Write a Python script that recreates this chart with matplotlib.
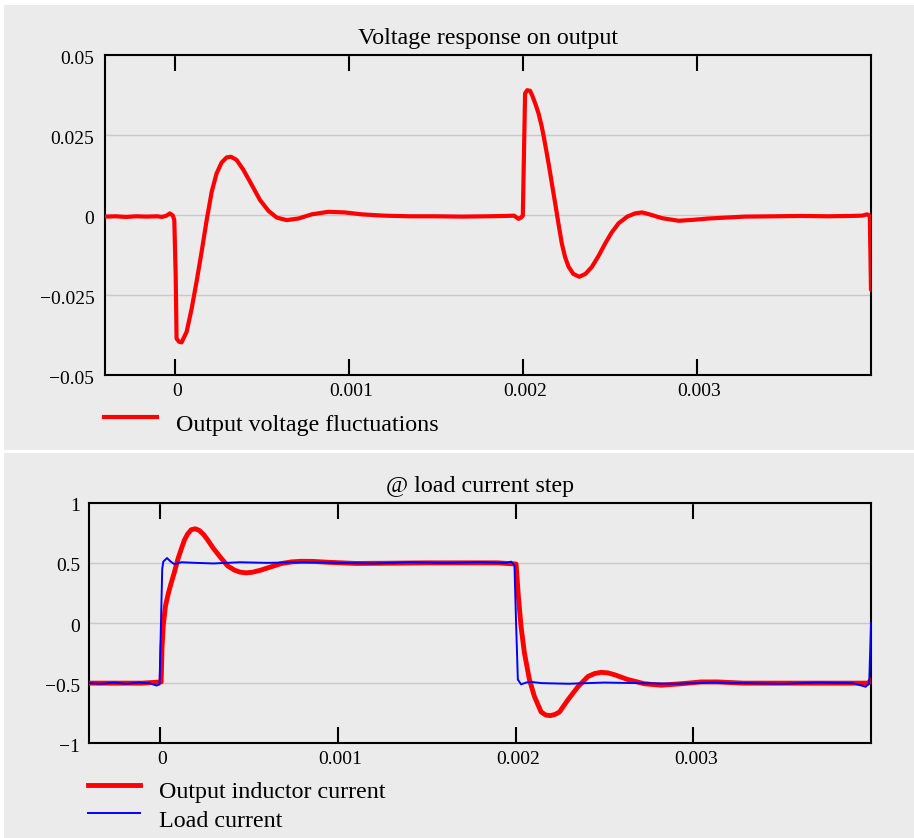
import numpy as np
import matplotlib
matplotlib.use("Agg")
import matplotlib.pyplot as plt
from matplotlib.patches import Rectangle
from matplotlib.lines import Line2D
from matplotlib.transforms import ScaledTranslation

plt.rcParams['font.family'] = ['Liberation Serif', 'DejaVu Serif']
plt.rcParams['axes.unicode_minus'] = True

# ---------------- data (time in ms) ----------------
volt_t_ms = [-0.40, -0.34, -0.28, -0.22, -0.16, -0.10, -0.075, -0.05, -0.027, -0.010,
             -0.002, 0.006, 0.011, 0.025, 0.040, 0.069, 0.098, 0.126, 0.155, 0.184,
             0.213, 0.241, 0.270, 0.299, 0.324, 0.356, 0.395, 0.443, 0.490, 0.539,
             0.586, 0.644, 0.711, 0.787, 0.883, 0.979, 1.075, 1.20, 1.35, 1.50,
             1.65, 1.80, 1.90, 1.95, 1.975, 1.990, 2.000, 2.013, 2.025, 2.042,
             2.055, 2.071, 2.090, 2.109, 2.128, 2.148, 2.167, 2.186, 2.205, 2.224,
             2.243, 2.263, 2.290, 2.324, 2.360, 2.397, 2.435, 2.473, 2.510, 2.550,
             2.600, 2.645, 2.684, 2.722, 2.800, 2.895, 2.980, 3.067, 3.170, 3.276,
             3.45, 3.60, 3.75, 3.88, 3.95, 3.977, 3.993, 4.000]
volt_v = [-0.0005, -0.0004, -0.0006, -0.0004, -0.0005, -0.0004, -0.0006, -0.0003, 0.0005, -0.0002,
          -0.0016, -0.0187, -0.0386, -0.0396, -0.0398, -0.0365, -0.0292, -0.0208, -0.0115, -0.0016,
          0.0073, 0.0130, 0.0164, 0.0180, 0.0182, 0.0172, 0.0141, 0.0094, 0.0047, 0.0013,
          -0.0008, -0.0016, -0.0011, 0.0002, 0.0010, 0.0008, 0.0002, -0.0002, -0.0004, -0.0004,
          -0.0005, -0.0004, -0.0003, -0.0002, -0.0012, -0.0008, -0.0002, 0.0380, 0.0390, 0.0388,
          0.0372, 0.0349, 0.0318, 0.0276, 0.0222, 0.0161, 0.0098, 0.0036, -0.0028, -0.0089,
          -0.0132, -0.0162, -0.0184, -0.0193, -0.0184, -0.0162, -0.0128, -0.0089, -0.0055, -0.0026,
          -0.0005, 0.0005, 0.0008, 0.0003, -0.0010, -0.0018, -0.0015, -0.0011, -0.0008, -0.0005,
          -0.0004, -0.0003, -0.0004, -0.0003, -0.0002, 0.0002, -0.0002, -0.0234]

ind_t_ms = [-0.40, -0.25, -0.10, 0.006, 0.011, 0.018, 0.030, 0.047, 0.062, 0.080,
            0.100, 0.118, 0.137, 0.155, 0.175, 0.198, 0.220, 0.245, 0.268, 0.300,
            0.343, 0.380, 0.418, 0.450, 0.484, 0.520, 0.568, 0.620, 0.681, 0.740,
            0.793, 0.860, 0.943, 1.10, 1.30, 1.50, 1.70, 1.90, 2.003, 2.016,
            2.031, 2.050, 2.078, 2.106, 2.144, 2.170, 2.196, 2.222, 2.247, 2.294,
            2.351, 2.407, 2.445, 2.482, 2.520, 2.557, 2.632, 2.725, 2.819, 2.932,
            3.044, 3.138, 3.283, 3.50, 3.70, 3.90, 3.985, 4.000]
ind_i = [-0.50, -0.50, -0.50, -0.49, -0.20, -0.02, 0.14, 0.25, 0.33, 0.42,
         0.53, 0.61, 0.69, 0.74, 0.775, 0.783, 0.77, 0.735, 0.69, 0.62,
         0.54, 0.475, 0.44, 0.423, 0.417, 0.422, 0.44, 0.465, 0.494, 0.508,
         0.513, 0.512, 0.505, 0.495, 0.497, 0.50, 0.50, 0.50, 0.49, 0.22,
         -0.03, -0.25, -0.47, -0.61, -0.74, -0.765, -0.77, -0.76, -0.74, -0.64,
         -0.53, -0.445, -0.42, -0.41, -0.415, -0.43, -0.47, -0.505, -0.517, -0.505,
         -0.49, -0.49, -0.50, -0.50, -0.50, -0.50, -0.50, -0.47]

load_t_ms = [-0.40, -0.33, -0.26, -0.19, -0.12, -0.06, -0.02, -0.003, 0.005, 0.012,
             0.018, 0.039, 0.060, 0.080, 0.12, 0.20, 0.30, 0.45, 0.60, 0.80,
             1.00, 1.20, 1.40, 1.60, 1.80, 1.95, 1.975, 1.994, 2.003, 2.013,
             2.031, 2.060, 2.088, 2.15, 2.30, 2.50, 2.70, 2.90, 3.10, 3.30,
             3.50, 3.70, 3.90, 3.970, 3.990, 4.000]
load_i = [-0.50, -0.505, -0.495, -0.505, -0.495, -0.50, -0.52, -0.51, 0.0, 0.45,
          0.51, 0.54, 0.51, 0.49, 0.505, 0.50, 0.495, 0.505, 0.50, 0.505,
          0.50, 0.495, 0.505, 0.50, 0.505, 0.50, 0.51, 0.48, 0.0, -0.47,
          -0.51, -0.495, -0.49, -0.50, -0.505, -0.495, -0.50, -0.505, -0.495, -0.50,
          -0.505, -0.495, -0.50, -0.53, -0.50, 0.0]

x_ticks = [0, 0.001, 0.002, 0.003]
x_tick_labels = ['0', '0.001', '0.002', '0.003']
top_yticks = [0.05, 0.025, 0, -0.025, -0.05]
top_ylabels = ['0.05', '0.025', '0', '\u22120.025', '\u22120.05']
bot_yticks = [1, 0.5, 0, -0.5, -1]
bot_ylabels = ['1', '0.5', '0', '\u22120.5', '\u22121']

title_top = 'Voltage response on output'
title_bot = '@ load current step'
leg_volt = 'Output voltage fluctuations'
leg_ind = 'Output inductor current'
leg_load = 'Load current'

# ---------------- figure ----------------
W, H = 914, 838
fig = plt.figure(figsize=(W / 100, H / 100), dpi=100, facecolor='white')
BG = '#ebebeb'

def fx(px):
    return px / W

def fy(py):
    return 1 - py / H

fig.add_artist(Rectangle((fx(4), fy(450)), 1 - fx(4), fy(5) - fy(450),
                         transform=fig.transFigure, facecolor=BG, edgecolor='none', zorder=-10))
fig.add_artist(Rectangle((fx(4), 0), 1 - fx(4), fy(453),
                         transform=fig.transFigure, facecolor=BG, edgecolor='none', zorder=-10))

ax1 = fig.add_axes([fx(105), fy(375), fx(871) - fx(105), fy(55) - fy(375)])
ax2 = fig.add_axes([fx(89), fy(743.3), fx(871) - fx(89), fy(502.7) - fy(743.3)])

RED = '#ff0000'
BLUE = '#0000ff'

ax1.plot(np.array(volt_t_ms) * 1e-3, volt_v, color=RED, lw=3.0,
         solid_joinstyle='round', solid_capstyle='round', zorder=3)
ax2.plot(np.array(ind_t_ms) * 1e-3, ind_i, color=RED, lw=3.5,
         solid_joinstyle='round', solid_capstyle='round', zorder=3)
ax2.plot(np.array(load_t_ms) * 1e-3, load_i, color=BLUE, lw=1.4, zorder=4)

def style(ax, yticks, ylabels, ylim, ypad):
    ax.set_facecolor(BG)
    ax.set_xlim(-0.0004, 0.004)
    ax.set_ylim(*ylim)
    ax.set_xticks(x_ticks, x_tick_labels)
    ax.set_yticks(yticks, ylabels)
    for s in ax.spines.values():
        s.set_color('black')
        s.set_linewidth(1.5)
    ax.tick_params(axis='x', direction='in', length=11.5, width=1.5, top=True, bottom=True,
                   labelsize=14, pad=5.4, colors='black')
    ax.tick_params(axis='y', length=0, labelsize=14, pad=ypad, colors='black')
    ax.grid(axis='y', color='#c8c8c8', lw=1.0)
    ax.set_axisbelow(True)
    off = ScaledTranslation(2.5 / 100, 0, fig.dpi_scale_trans)
    for lbl in ax.get_xticklabels():
        lbl.set_transform(lbl.get_transform() + off)
    offy = ScaledTranslation(0, -2.0 / 100, fig.dpi_scale_trans)
    for lbl in ax.get_yticklabels():
        lbl.set_transform(lbl.get_transform() + offy)

style(ax1, top_yticks, top_ylabels, (-0.05, 0.05), 7.7)
style(ax2, bot_yticks, bot_ylabels, (-1, 1), 6.5)

ax1.set_title(title_top, fontsize=17.3, pad=7.7)
ax2.set_title(title_bot, fontsize=17.3, pad=7.9)

# ---------------- legends ----------------
def legend_entry(x0, x1, yline, xtext, ybase, color, lw, text):
    fig.add_artist(Line2D([fx(x0), fx(x1)], [fy(yline), fy(yline)], transform=fig.transFigure,
                          color=color, lw=lw))
    fig.text(fx(xtext), fy(ybase), text, fontsize=17.3, va='baseline', ha='left')

legend_entry(104, 157, 417.3, 175.7, 430.5, RED, 3.0, leg_volt)
legend_entry(88, 140, 785.3, 159, 798.3, RED, 3.5, leg_ind)
legend_entry(88, 140, 813.3, 159, 826.7, BLUE, 1.4, leg_load)

fig.savefig('out.png', dpi=100, facecolor='white')
